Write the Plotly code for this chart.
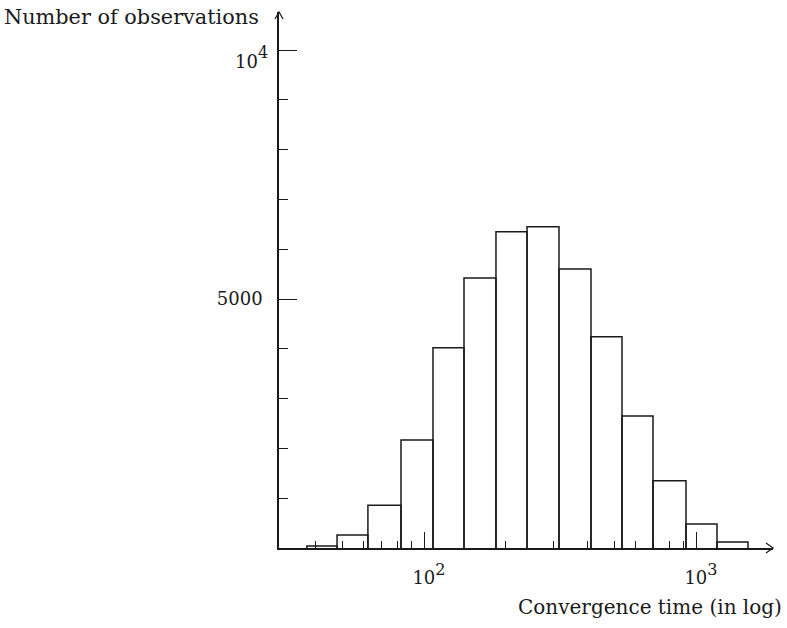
import plotly.graph_objects as go

# ---- data ----
bin_edges = [37.1, 47.9, 62.2, 82.3, 107.9, 140.3, 183.9, 239.2, 313.5,
             411.1, 534.5, 694.9, 918.9, 1194.6, 1553.0]
counts = [40, 260, 860, 2170, 4020, 5420, 6350, 6450, 5600, 4240, 2650, 1350, 480, 120]

POW = '<span style="font-size:18px">10</span><sup>{}</sup>'
x_major_ticks = [100, 1000]
x_major_text = [POW.format(2), POW.format(3)]
x_minor_ticks = [40, 50, 60, 70, 80, 90, 200, 300, 400, 500, 600, 700, 800, 900]
y_major_ticks = [5000, 10000]
y_major_text = ["5000", ""]
y_top_label = POW.format(4)
y_minor_ticks = [1000, 2000, 3000, 4000, 6000, 7000, 8000, 9000]

x_title = "Convergence time (in log)"
y_title = "Number of observations"

# ---- build histogram rectangles ----
xs, ys = [], []
for i, c in enumerate(counts):
    l, r = bin_edges[i], bin_edges[i + 1]
    xs += [l, l, r, r, None]
    ys += [0, c, c, 0, None]

FONT = "DejaVu Serif"
INK = "#1a1a1a"

fig = go.Figure()
fig.add_trace(go.Scatter(x=xs, y=ys, mode="lines",
                         line=dict(color=INK, width=1.5),
                         hoverinfo="skip", showlegend=False))

fig.update_layout(
    width=787, height=628,
    margin=dict(l=279, r=14, t=12, b=80),
    paper_bgcolor="white", plot_bgcolor="white",
    showlegend=False,
    xaxis=dict(
        type="log", range=[1.4669, 3.2831],
        showgrid=False, zeroline=False,
        showline=True, linecolor=INK, linewidth=1.5,
        tickmode="array", tickvals=x_major_ticks, ticktext=x_major_text,
        ticks="inside", ticklen=16, tickwidth=1.3, tickcolor=INK,
        ticklabelstandoff=7, ticklabelshift=5,
        tickfont=dict(family=FONT, size=23, color=INK),
        minor=dict(tickmode="array", tickvals=x_minor_ticks, ticks="inside",
                   ticklen=7, tickwidth=1.2, tickcolor=INK, showgrid=False),
    ),
    yaxis=dict(
        range=[0, 10763],
        showgrid=False, zeroline=False,
        showline=True, linecolor=INK, linewidth=1.5,
        tickmode="array", tickvals=y_major_ticks, ticktext=y_major_text,
        ticks="inside", ticklen=18, tickwidth=1.2, tickcolor=INK,
        ticklabelstandoff=11,
        tickfont=dict(family=FONT, size=18, color=INK),
        minor=dict(tickmode="array", tickvals=y_minor_ticks, ticks="inside",
                   ticklen=9, tickwidth=1.2, tickcolor=INK, showgrid=False),
    ),
    annotations=[
        dict(text=y_top_label, xref="paper", yref="y",
             x=(270 - 279) / 494, y=y_major_ticks[1], yshift=-7,
             xanchor="right", yanchor="middle", showarrow=False,
             font=dict(family=FONT, size=23, color=INK)),
        dict(text=y_title, xref="paper", yref="paper",
             x=(261 - 279) / 494, y=(548 - 17) / 536,
             xanchor="right", yanchor="middle", showarrow=False,
             font=dict(family=FONT, size=20.8, color=INK)),
        dict(text=x_title, xref="paper", yref="paper",
             x=(784 - 279) / 494, y=(548 - 607) / 536,
             xanchor="right", yanchor="middle", showarrow=False,
             font=dict(family=FONT, size=20, color=INK)),
    ],
    shapes=[
        dict(type="path", xref="paper", yref="paper",
             xsizemode="pixel", ysizemode="pixel", xanchor=1, yanchor=0,
             path="M -7,5 L 0,0 L -7,-5", line=dict(color=INK, width=1.3)),
        dict(type="path", xref="paper", yref="paper",
             xsizemode="pixel", ysizemode="pixel", xanchor=0, yanchor=1,
             path="M -4,-7 L 0,0 L 4,-7", line=dict(color=INK, width=1.3)),
    ],
)

fig.write_html("out.html")
